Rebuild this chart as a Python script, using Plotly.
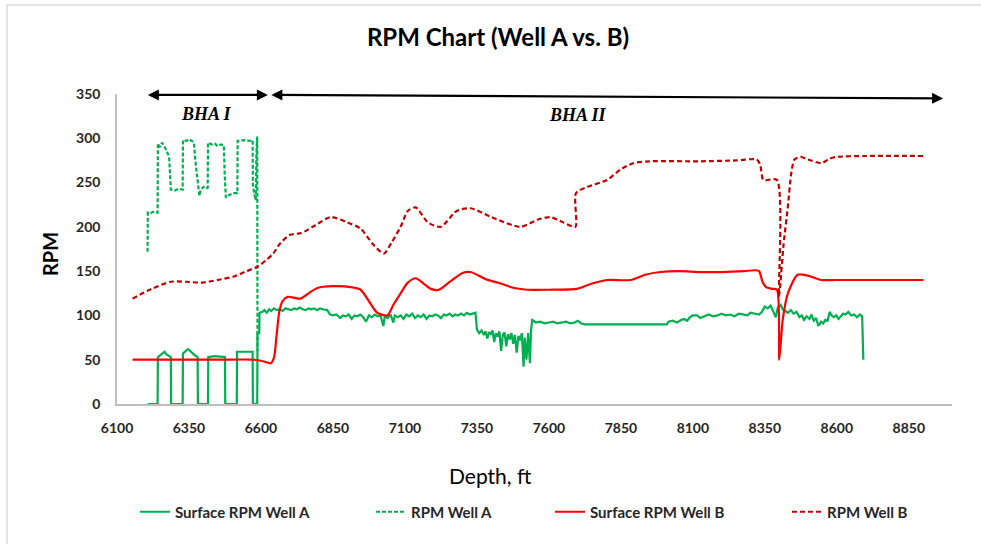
import plotly.graph_objects as go

# ---------------- data ----------------
# Surface RPM Well A (solid green)
surf_a_depth = [6206, 6241, 6242, 6250, 6258, 6265, 6272, 6280, 6287, 6288, 6328, 6329, 6338, 6346, 6354, 6362, 6370, 6380, 6381,
                6416, 6417, 6440, 6460, 6475, 6476, 6516, 6517, 6571, 6572, 6587, 6588, 6594, 6595,
                6605, 6612, 6620, 6628, 6636, 6645, 6655, 6665, 6675, 6685, 6695, 6705, 6715, 6725, 6735, 6745, 6755, 6765,
                6775, 6785, 6795, 6805, 6815, 6830, 6840, 6850, 6862, 6875, 6885, 6895, 6905, 6915, 6925, 6935, 6945, 6955,
                6965, 6975, 6985, 6995, 7005, 7015, 7025, 7030, 7040, 7050, 7060, 7065, 7075, 7085, 7095, 7105, 7115, 7125,
                7135, 7145, 7155, 7165, 7175, 7185, 7195, 7205, 7215, 7225, 7235, 7245, 7255, 7265, 7275, 7285, 7295, 7305,
                7315, 7325, 7335, 7345, 7350, 7358, 7366, 7374, 7380, 7386, 7392, 7398, 7404, 7410, 7416, 7422, 7428, 7434,
                7440, 7446, 7452, 7458, 7464, 7470, 7476, 7482, 7488, 7494, 7500, 7506, 7512, 7516, 7522, 7528, 7534, 7538,
                7542, 7555, 7570, 7585, 7600, 7615, 7630, 7645, 7660, 7675, 7690, 7700, 7712, 7725, 7760, 7800, 7850, 7900,
                7950, 8000, 8010, 8015, 8030, 8045, 8060, 8070, 8080, 8090, 8100, 8115, 8125, 8140, 8155, 8170, 8185, 8200,
                8215, 8230, 8245, 8260, 8275, 8290, 8300, 8315, 8330, 8340, 8350, 8360, 8370, 8380, 8388, 8395, 8405, 8412,
                8420, 8430, 8440, 8450, 8460, 8470, 8478, 8486, 8495, 8505, 8512, 8520, 8528, 8536, 8545, 8553, 8560, 8568,
                8575, 8582, 8590, 8598, 8606, 8614, 8622, 8630, 8640, 8650, 8660, 8670, 8680, 8688, 8692]
surf_a_rpm = [0, 0, 53, 55, 57, 59, 56, 54, 53, 0, 0, 57, 60, 62, 60, 57, 55, 53, 0,
              0, 53, 54, 53, 53, 0, 0, 59, 59, 0, 0, 80, 80, 103,
              104, 106, 103, 107, 105, 108, 106, 107, 105, 108, 107, 106, 108, 107, 109, 107, 106, 108,
              107, 108, 106, 108, 107, 106, 101, 100, 101, 97, 100, 99, 101, 96, 100, 99, 101, 98,
              93, 100, 98, 101, 99, 100, 88, 99, 97, 101, 92, 100, 98, 100, 96, 101, 99, 102,
              97, 100, 98, 101, 96, 100, 99, 101, 100, 97, 101, 100, 102, 99, 101, 100, 102, 100,
              103, 101, 102, 103, 84, 80, 83, 78, 82, 74, 81, 79, 83, 70, 80, 76, 82, 60,
              78, 81, 65, 79, 73, 80, 68, 78, 58, 77, 72, 80, 42, 75, 50, 80, 46, 83,
              95, 92, 93, 91, 92, 93, 91, 92, 93, 91, 92, 94, 91, 90, 90, 90, 90, 90,
              90, 90, 90, 93, 94, 92, 95, 96, 94, 98, 100, 100, 97, 99, 101, 99, 100, 102,
              100, 101, 99, 102, 101, 100, 103, 102, 101, 104, 110, 108, 111, 104, 98, 109, 112, 107,
              105, 103, 106, 102, 104, 98, 100, 95, 99, 96, 101, 94, 97, 88, 93, 91, 95, 94,
              104, 100, 98, 100, 96, 99, 102, 101, 104, 100, 101, 98, 101, 99, 50]

# RPM Well A (dashed green)
rpm_a_depth = [6206, 6207, 6215, 6225, 6241, 6242, 6250, 6256, 6263, 6270, 6276, 6281, 6283, 6287, 6300, 6315, 6328,
               6329, 6340, 6350, 6360, 6367, 6372, 6378, 6382, 6386, 6391, 6400, 6408, 6415, 6416, 6430, 6440,
               6450, 6460, 6471, 6474, 6478, 6490, 6505, 6518, 6519, 6540, 6560, 6571, 6572, 6578, 6582, 6584,
               6587, 6588]
rpm_a_rpm = [172, 216, 215, 217, 216, 294, 290, 295, 292, 286, 283, 279, 260, 242, 241, 243, 242,
             298, 297, 299, 297, 295, 275, 257, 248, 235, 242, 245, 243, 244, 295, 293, 294,
             291, 293, 292, 260, 233, 236, 238, 238, 297, 298, 297, 298, 247, 235, 230, 280,
             302, 60]

# Surface RPM Well B (solid red)
surf_b_depth = [6154, 6300, 6450, 6575, 6610, 6634, 6645, 6655, 6664, 6675, 6692, 6715, 6738, 6770, 6796, 6850,
                6912, 6946, 6975, 7004, 7039, 7060, 7085, 7110, 7137, 7165, 7190, 7218, 7260, 7300, 7328, 7380,
                7432, 7480, 7525, 7600, 7698, 7750, 7802, 7883, 7935, 7987, 8050, 8126, 8200, 8276, 8318, 8330,
                8342, 8354, 8375, 8392, 8400, 8412, 8430, 8464, 8499, 8546, 8600, 8700, 8800, 8900]
surf_b_rpm = [50, 50, 50, 50, 48, 46, 52, 80, 105, 116, 121, 120, 119, 126, 131, 133,
              132, 129, 116, 103, 100, 112, 125, 137, 142, 136, 130, 129, 139, 148, 149, 141,
              136, 131, 129, 129, 130, 136, 140, 140, 146, 149, 150, 149, 149, 150, 151, 150,
              138, 132, 130, 129, 50, 95, 125, 146, 145, 140, 140, 140, 140, 140]

# RPM Well B (dashed dark red)
rpm_b_depth = [6154, 6220, 6287, 6340, 6391, 6450, 6506, 6550, 6588, 6620, 6643, 6666, 6701, 6740, 6790, 6842,
               6900, 6946, 6990, 7027, 7055, 7085, 7110, 7137, 7180, 7224, 7280, 7328, 7400, 7501, 7560, 7605,
               7650, 7692, 7694, 7733, 7802, 7850, 7894, 7950, 8126, 8250, 8322, 8334, 8345, 8392, 8399, 8415,
               8430, 8442, 8453, 8475, 8500, 8548, 8575, 8600, 8700, 8900]
rpm_b_rpm = [119, 130, 138, 138, 137, 140, 144, 150, 155, 163, 170, 181, 191, 193, 202, 211,
             205, 198, 180, 170, 183, 200, 218, 222, 205, 200, 218, 221, 211, 200, 208, 211,
             205, 200, 238, 245, 253, 265, 272, 274, 274, 275, 276, 270, 253, 253, 122, 180,
             223, 261, 276, 279, 276, 272, 277, 279, 280, 280]

x_ticks = [6100, 6350, 6600, 6850, 7100, 7350, 7600, 7850, 8100, 8350, 8600, 8850]
y_ticks = [0, 50, 100, 150, 200, 250, 300, 350]

GREEN = "#00B050"
RED = "#FF0000"
DARK_RED = "#C00000"
FONT = "Lato"
TXT = "#262626"

fig = go.Figure()
fig.add_trace(go.Scatter(x=surf_a_depth, y=surf_a_rpm, mode="lines", name="<b>Surface RPM Well A</b>",
                         line=dict(color=GREEN, width=2.2), legend="legend", showlegend=True))
fig.add_trace(go.Scatter(x=rpm_a_depth, y=rpm_a_rpm, mode="lines", name="<b>RPM Well A</b>",
                         line=dict(color=GREEN, width=2.2, dash="4px,2px"), legend="legend2", showlegend=True))
fig.add_trace(go.Scatter(x=surf_b_depth, y=surf_b_rpm, mode="lines", name="<b>Surface RPM Well B</b>",
                         line=dict(color=RED, width=2.2, shape="spline", smoothing=0.7),
                         legend="legend3", showlegend=True))
fig.add_trace(go.Scatter(x=rpm_b_depth, y=rpm_b_rpm, mode="lines", name="<b>RPM Well B</b>",
                         line=dict(color=DARK_RED, width=2.2, dash="5px,3px", shape="spline", smoothing=0.7),
                         legend="legend4", showlegend=True))

PL, PR, PT, PB = 117, 952, 94, 404
W, H = 981, 544

def px(xp):
    return (xp - PL) / (PR - PL)

def py(yp):
    return (PB - yp) / (PB - PT)

leg_common = dict(orientation="h", yanchor="middle", xanchor="left", bgcolor="rgba(0,0,0,0)",
                  font=dict(family=FONT, size=15, color=TXT), borderwidth=0, visible=True)
leg_y = py(512)

fig.update_layout(
    width=W, height=H,
    showlegend=True,
    margin=dict(l=PL, r=W - PR, t=PT, b=H - PB),
    paper_bgcolor="white", plot_bgcolor="white",
    font=dict(family=FONT, color=TXT),
    title=dict(text="<b>RPM Chart (Well A vs. B)</b>", x=498 / W, xref="container", xanchor="center",
               y=1 - 38 / H, yref="container", yanchor="middle",
               font=dict(family=FONT, size=24, color="#000000")),
    xaxis=dict(range=[6100, 9000], tickmode="array", tickvals=x_ticks,
               ticktext=["<b>%d</b>" % v for v in x_ticks],
               showgrid=False, zeroline=False, showline=True, linecolor="#BFBFBF", linewidth=1.5,
               ticks="outside", ticklen=10, tickcolor="rgba(0,0,0,0)",
               tickfont=dict(family=FONT, size=14, color=TXT)),
    yaxis=dict(range=[0, 350], tickmode="array", tickvals=y_ticks,
               ticktext=["<b>%d</b>" % v for v in y_ticks],
               showgrid=False, zeroline=False,
               showline=True, linecolor="#BFBFBF", linewidth=1.5,
               ticks="outside", ticklen=12, tickcolor="rgba(0,0,0,0)",
               tickfont=dict(family=FONT, size=14, color=TXT)),
    legend=dict(x=px(135), y=leg_y, **leg_common),
    legend2=dict(x=px(371), y=leg_y, **leg_common),
    legend3=dict(x=px(550), y=leg_y, **leg_common),
    legend4=dict(x=px(787), y=leg_y, **leg_common),
)

annotations = [
    dict(text="Depth, ft", x=px(490), y=py(475), xref="paper", yref="paper", showarrow=False,
         xanchor="center", yanchor="middle", font=dict(family=FONT, size=21, color="#000000")),
    dict(text="<b>RPM</b>", x=px(50), y=py(254), xref="paper", yref="paper", showarrow=False, textangle=-90,
         xanchor="center", yanchor="middle", font=dict(family=FONT, size=20, color="#000000")),
    dict(text="<b><i>BHA I</i></b>", x=6412, y=327, xref="x", yref="y", showarrow=False,
         font=dict(family="Liberation Serif", size=18, color="#000000")),
    dict(text="<b><i>BHA II</i></b>", x=7700, y=326, xref="x", yref="y", showarrow=False,
         font=dict(family="Liberation Serif", size=18, color="#000000")),
    dict(text="", x=6624, y=349, ax=6202, ay=349, xref="x", yref="y", axref="x", ayref="y",
         showarrow=True, arrowhead=2, startarrowhead=2, arrowside="end+start", arrowwidth=2.2,
         arrowsize=1, startarrowsize=1, arrowcolor="#000000"),
    dict(text="", x=8969, y=345, ax=6631, ay=349, xref="x", yref="y", axref="x", ayref="y",
         showarrow=True, arrowhead=2, startarrowhead=2, arrowside="end+start", arrowwidth=2.2,
         arrowsize=1, startarrowsize=1, arrowcolor="#000000"),
]
fig.update_layout(annotations=annotations)

# chart-area frame (light gray)
fig.add_shape(type="line", xref="paper", yref="paper", x0=px(7), x1=px(981), y0=py(5), y1=py(5),
              line=dict(color="#D9D9D9", width=1.5))
fig.add_shape(type="line", xref="paper", yref="paper", x0=px(7), x1=px(7), y0=py(5), y1=py(544),
              line=dict(color="#D9D9D9", width=1.5))

fig.write_html("out.html")
